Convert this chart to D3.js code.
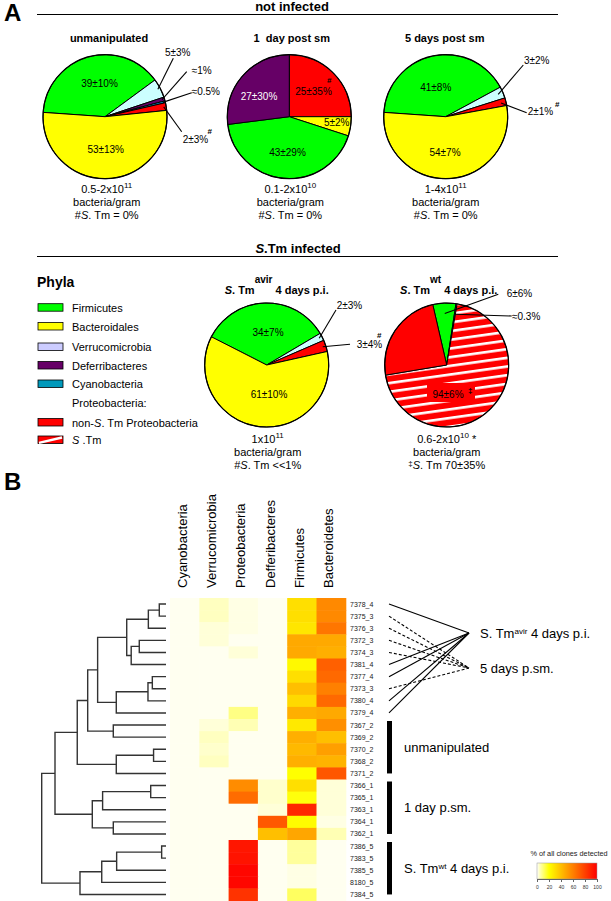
<!DOCTYPE html>
<html><head><meta charset="utf-8">
<script src="https://cdn.jsdelivr.net/npm/d3@7"></script>
<style>
body{margin:0;background:#fff;}
svg{font-family:"Liberation Sans",Arial,sans-serif;}
</style></head><body>
<svg id="c" width="611" height="901"></svg>
<script>
// ---------------- DATA ----------------
const legendPhyla = ["Firmicutes","Bacteroidales","Verrucomicrobia","Deferribacteres","Cyanobacteria","Proteobacteria:","non-S. Tm Proteobacteria","S.Tm"];

const pie1Names  = ["Firmicutes","Verrucomicrobia","Deferribacteres","Cyanobacteria","Proteobacteria","Bacteroidales"];
const pie1Values = [39,5,1,0.5,2,53];
const pie1Labels = ["39±10%","5±3%","≈1%","≈0.5%","2±3%","53±13%"];

const pie2Names  = ["Proteobacteria","Bacteroidales","Firmicutes","Deferribacteres"];
const pie2Values = [25,5,43,27];
const pie2Labels = ["25±35%","5±2%","43±29%","27±30%"];

const pie3Names  = ["Firmicutes","Verrucomicrobia","Proteobacteria","Bacteroidales"];
const pie3Values = [41,3,2,54];
const pie3Labels = ["41±8%","3±2%","2±1%","54±7%"];

const pie4Names  = ["Firmicutes","Verrucomicrobia","Proteobacteria","Bacteroidales"];
const pie4Values = [34,2,3,61];
const pie4Labels = ["34±7%","2±3%","3±4%","61±10%"];

const pie5Names  = ["Firmicutes","Cyanobacteria","S.Tm","Proteobacteria"];
const pie5Values = [6,0.3,69.7,24];
const pie5Labels = ["6±6%","≈0.3%","94±6%",""];

const heatColumns = ["Cyanobacteria","Verrucomicrobia","Proteobacteria","Defferibacteres","Firmicutes","Bacteroidetes"];
const rowIds = ["7378_4","7375_3","7376_3","7372_3","7374_3","7381_4","7377_4","7373_3","7380_4","7379_4",
                "7367_2","7369_2","7370_2","7368_2","7371_2","7366_1","7365_1","7363_1","7364_1","7362_1",
                "7386_5","7383_5","7385_5","8180_5","7384_5"];
const heatValues = [
 [0,4,1,0,30,57],[0,4,1,0,30,57],[0,2,1,0,28,63],[0,2,0,0,47,47],[0,0,2,0,47,45],
 [0,0,0,0,22,70],[0,0,0,0,30,67],[0,0,0,0,40,60],[0,0,0,0,32,67],[0,0,9,0,45,47],
 [0,2,5,0,27,55],[0,4,0,0,45,40],[0,3,0,0,42,50],[0,4,0,0,45,44],[0,0,0,0,20,73],
 [0,0,56,3,30,2],[0,0,66,3,19,2],[0,0,0,2,88,2],[0,0,0,72,21,1],[0,0,0,40,48,5],
 [0,0,93,0,7,0],[0,0,94,0,7,0],[0,0,98,0,1,0],[0,0,98,0,1,0],[0,0,84,0,12,0]];
// hierarchical clustering linkage: [child1, child2, height]; leaves 0..24, nodes 25..
const linkage = [
 [0,1,0.054],[25,2,0.142],[3,4,0.215],[27,5,0.28],[26,28,0.316],
 [6,7,0.11],[30,8,0.145],[31,9,0.40],[29,32,0.55],[10,11,0.424],
 [33,34,0.63],[12,13,0.10],[36,14,0.40],[35,37,0.714],[15,16,0.123],
 [39,17,0.51],[18,19,0.424],[40,41,0.593],[38,42,0.893],[20,21,0.035],
 [44,22,0.397],[45,23,0.517],[46,24,0.692],[43,47,1.0]];
const colorTicks = [0,20,40,60,80,100];

// ---------------- STYLE ----------------
const pieColor = {Firmicutes:"#00ff00",Bacteroidales:"#ffff00",Verrucomicrobia:"#ccffff",Deferribacteres:"#660066",
  Cyanobacteria:"#0099cc",Proteobacteria:"#ff0000","S.Tm":"url(#stripes)"};
const legendColor = ["#00ff00","#ffff00","#ccccff","#660066","#0099bb",null,"#ff0000","stm"];

const svg = d3.select("#c");
const defs = svg.append("defs");
const pat = defs.append("pattern").attr("id","stripes").attr("patternUnits","userSpaceOnUse")
  .attr("width",12).attr("height",8.6).attr("patternTransform","rotate(-8)");
pat.append("rect").attr("width",12).attr("height",8.6).attr("fill","#ff0000");
pat.append("rect").attr("y",0).attr("width",12).attr("height",2.6).attr("fill","#ffffff");

function richText(g, x, y, segs, opts={}){
  const t = g.append("text").attr("x",x).attr("y",y).attr("text-anchor",opts.anchor||"middle")
    .attr("font-size",opts.size||11).attr("fill",opts.fill||"#000").attr("font-weight",opts.weight||"normal")
    .style("white-space","pre");
  let shift = 0;
  segs.forEach(s=>{
    const sp = t.append("tspan").text(s.t);
    const want = s.sup ? -(s.raise||5) : 0;
    if (want!==shift){ sp.attr("dy", want-shift); shift = want; }
    if (s.sup) sp.attr("font-size", s.size||8);
    if (s.it) sp.attr("font-style","italic");
  });
  return t;
}

// ---------------- PANEL A ----------------
svg.append("text").attr("x",4).attr("y",21).attr("font-size",24).attr("font-weight","bold").text("A");
svg.append("text").attr("x",292).attr("y",11).attr("text-anchor","middle").attr("font-size",13).attr("font-weight","bold").text("not infected");
svg.append("line").attr("x1",37).attr("x2",558).attr("y1",14.5).attr("y2",14.5).attr("stroke","#000").attr("stroke-width",1.2);

richText(svg,298,253,[{t:"S",it:true},{t:".Tm infected"}],{size:13,weight:"bold"});
svg.append("line").attr("x1",37).attr("x2",558).attr("y1",256.5).attr("y2",256.5).attr("stroke","#000").attr("stroke-width",1.2);

const pieR = 62;
const arcGen = d3.arc().innerRadius(0).outerRadius(pieR);

function drawPie(cfg){
  const g = svg.append("g").attr("transform",`translate(${cfg.cx},${cfg.cy})`);
  const s0 = cfg.start*Math.PI/180;
  const pie = d3.pie().sort(null).value(d=>d.v).startAngle(s0).endAngle(s0+2*Math.PI);
  const arcs = pie(cfg.names.map((n,i)=>({n, v:cfg.values[i], label:cfg.labels[i]})));
  g.selectAll("path").data(arcs).join("path").attr("d",arcGen)
    .attr("fill",d=>pieColor[d.data.n]).attr("stroke","#000").attr("stroke-width",1).attr("stroke-linejoin","round");
  cfg.layout.forEach((L,i)=>{
    if(!L) return;
    const a = arcs[i];
    if (L.leader){
      const m = (a.startAngle+a.endAngle)/2, rr = pieR*cfg.leadR;
      svg.append("line").attr("x1",cfg.cx+rr*Math.sin(m)).attr("y1",cfg.cy-rr*Math.cos(m))
        .attr("x2",L.leader[0]).attr("y2",L.leader[1]).attr("stroke","#000").attr("stroke-width",1.1);
    }
    if (L.box){
      svg.append("rect").attr("x",L.box[0]).attr("y",L.box[1]).attr("width",L.box[2]).attr("height",L.box[3]).attr("fill","#ff0000");
    }
    svg.append("text").attr("x",L.x).attr("y",L.y).attr("text-anchor",L.anchor||"middle")
      .attr("font-size",10).attr("fill",L.fill||"#000").text(a.data.label);
    if (L.hash){
      svg.append("text").attr("x",L.hash[0]).attr("y",L.hash[1]).attr("font-size",8).attr("font-weight","bold")
        .attr("fill","#000").text(L.hashChar||"#");
    }
  });
  const tg = svg.append("g");
  richText(tg, cfg.cx+cfg.tdx, cfg.ty, cfg.title, {size:11, weight:"bold"});
  cfg.below.forEach((segs,k)=> richText(tg, cfg.cx+cfg.bdx, cfg.by+k*13, segs, {size:11}));
}

drawPie({cx:105,cy:116.7,start:274,names:pie1Names,values:pie1Values,labels:pie1Labels,leadR:0.96,
  layout:[{x:99.5,y:87},{x:165,y:56,anchor:"start",leader:[173.3,58.3]},{x:191.7,y:73.5,anchor:"start",leader:[186.7,71.7]},
          {x:191.7,y:95,anchor:"start",leader:[191.7,92.7]},{x:182.7,y:142.5,anchor:"start",leader:[181.7,131.7],hash:[207.5,134]},
          {x:105.7,y:152.5}],
  title:[{t:"unmanipulated"}],tdx:4,ty:42,
  below:[[{t:"0.5-2x10"},{t:"11",sup:true}],[{t:"bacteria/gram"}],[{t:"#"},{t:"S",it:true},{t:". Tm = 0%"}]],bdx:1.7,by:193});

drawPie({cx:289.3,cy:116.7,start:0,names:pie2Names,values:pie2Values,labels:pie2Labels,leadR:0.9,
  layout:[{x:313.5,y:95,hash:[327,83]},{x:336.7,y:126},{x:287.5,y:155.5},{x:259,y:100,fill:"#ffffff"}],
  title:[{t:"1\u00a0 day post sm"}],tdx:2.5,ty:42,
  below:[[{t:"0.1-2x10"},{t:"10",sup:true}],[{t:"bacteria/gram"}],[{t:"#"},{t:"S",it:true},{t:". Tm = 0%"}]],bdx:1,by:193});

drawPie({cx:445.7,cy:116.7,start:274,names:pie3Names,values:pie3Values,labels:pie3Labels,leadR:0.92,
  layout:[{x:435.8,y:91},{x:524,y:63.5,anchor:"start",leader:[523.3,65]},
          {x:527.7,y:115,anchor:"start",leader:[526.7,112.7],hash:[555,107]},{x:445,y:156}],
  title:[{t:"5 days post sm"}],tdx:-1,ty:42,
  below:[[{t:"1-4x10"},{t:"11",sup:true}],[{t:"bacteria/gram"}],[{t:"#"},{t:"S",it:true},{t:". Tm = 0%"}]],bdx:0,by:193});

drawPie({cx:266.7,cy:365,start:297,names:pie4Names,values:pie4Values,labels:pie4Labels,leadR:0.95,
  layout:[{x:268,y:335.5},{x:336.7,y:309,anchor:"start",leader:[336,310]},
          {x:356.7,y:348,anchor:"start",leader:[350,344.3],hash:[377,338]},{x:269,y:398}],
  title:[{t:"S",it:true},{t:". Tm"},{t:"avir",sup:true,raise:11,size:10},{t:" 4 days p.i."}],tdx:10,ty:294,
  below:[[{t:"1x10"},{t:"11",sup:true}],[{t:"bacteria/gram"}],[{t:"#"},{t:"S",it:true},{t:". Tm <<1%"}]],bdx:1,by:443});

drawPie({cx:446.7,cy:365,start:347,names:pie5Names,values:pie5Values,labels:pie5Labels,leadR:0.83,
  layout:[{x:506.7,y:297,anchor:"start",leader:[498.3,294.3]},{x:512,y:320,anchor:"start",leader:[511.7,316]},
          {x:448,y:398,box:[427,383,48,19],hash:[468,393],hashChar:"‡"},null],
  title:[{t:"S",it:true},{t:". Tm"},{t:"wt",sup:true,raise:11,size:10},{t:" 4 days p.i."}],tdx:2,ty:294,
  below:[[{t:"0.6-2x10"},{t:"10",sup:true},{t:" *"}],[{t:"bacteria/gram"}],[{t:"‡",sup:true,raise:3},{t:"S",it:true},{t:". Tm 70±35%"}]],bdx:0,by:443});
// outline circles
[[105,116.7],[289.3,116.7],[445.7,116.7],[266.7,365],[446.7,365]].forEach(c=>
  svg.append("circle").attr("cx",c[0]).attr("cy",c[1]).attr("r",pieR).attr("fill","none").attr("stroke","#000").attr("stroke-width",1.2));

// legend
svg.append("text").attr("x",37).attr("y",287).attr("font-size",14).attr("font-weight","bold").text("Phyla");
const legY = [307.7,326.5,347,365.5,384,403,422.5,440];
legendPhyla.forEach((p,i)=>{
  const y = legY[i];
  const c = legendColor[i];
  if (c && c!=="stm"){
    svg.append("rect").attr("x",38).attr("y",y-4).attr("width",25).attr("height",7.5).attr("fill",c).attr("stroke","#000").attr("stroke-width",0.8);
  } else if (c==="stm"){
    svg.append("rect").attr("x",38).attr("y",y-4).attr("width",25).attr("height",7.5).attr("fill","#ff0000").attr("stroke","#000").attr("stroke-width",0.8);
    svg.append("line").attr("x1",39).attr("y1",y+2.8).attr("x2",62).attr("y2",y-2.5).attr("stroke","#fff").attr("stroke-width",2.4);
  }
  let segs;
  if (p==="non-S. Tm Proteobacteria") segs=[{t:"non-"},{t:"S",it:true},{t:". Tm Proteobacteria"}];
  else if (p==="S.Tm") segs=[{t:"S",it:true},{t:" .Tm"}];
  else segs=[{t:p}];
  richText(svg,72,y+4,segs,{anchor:"start",size:11});
});

// ---------------- PANEL B ----------------
svg.append("text").attr("x",4).attr("y",490).attr("font-size",24).attr("font-weight","bold").text("B");

const heatLeft = 170, colW = 29.3, heatTop = 598, rowH = 12.1;
const x = d3.scaleBand().domain(heatColumns).range([heatLeft, heatLeft+colW*heatColumns.length]);
const y = d3.scaleBand().domain(rowIds).range([heatTop, heatTop+rowH*rowIds.length]);
const color = d3.scaleLinear().domain([0,20,100]).range(["#fffff0","#ffff00","#ff0000"]);

const cells = [];
rowIds.forEach((r,i)=>heatColumns.forEach((c,j)=>cells.push({r,c,v:heatValues[i][j]})));
svg.append("g").selectAll("rect").data(cells).join("rect")
  .attr("x",d=>x(d.c)).attr("y",d=>y(d.r)).attr("width",x.bandwidth()+0.5).attr("height",y.bandwidth()+0.5)
  .attr("fill",d=>color(d.v));

svg.append("g").selectAll("text").data(heatColumns).join("text")
  .attr("transform",d=>`translate(${x(d)+x.bandwidth()/2+2},588) rotate(-90)`)
  .attr("font-size",13).text(d=>d);

svg.append("g").selectAll("text").data(rowIds).join("text")
  .attr("x",350).attr("y",d=>y(d)+y.bandwidth()/2+2.5).attr("font-size",7).attr("fill","#222").text(d=>d);

// dendrogram
const hx = d3.scaleLinear().domain([0,1]).range([166,41.7]);
const nodeY = rowIds.map(r=>y(r)+y.bandwidth()/2);
const nodeH = rowIds.map(()=>0);
const dg = svg.append("g").attr("fill","none").attr("stroke","#333").attr("stroke-width",1.4);
linkage.forEach(([a,b,h])=>{
  const xa = hx(nodeH[a]), xb = hx(nodeH[b]), xh = hx(h);
  dg.append("path").attr("d",`M${xa},${nodeY[a]}H${xh}V${nodeY[b]}H${xb}`);
  nodeY.push((nodeY[a]+nodeY[b])/2); nodeH.push(h);
});

// right annotations
const convAvir = [469,633], conv5 = [469,668];
const ann = svg.append("g");
rowIds.forEach(r=>{
  const yy = y(r)+y.bandwidth()/2;
  if (r.endsWith("_4")) ann.append("line").attr("x1",389).attr("y1",yy).attr("x2",convAvir[0]).attr("y2",convAvir[1]).attr("stroke","#000").attr("stroke-width",1.1);
  if (r.endsWith("_3")) ann.append("line").attr("x1",389).attr("y1",yy).attr("x2",conv5[0]).attr("y2",conv5[1]).attr("stroke","#000").attr("stroke-width",1.1).attr("stroke-dasharray","3,2");
});
richText(ann,480,637.5,[{t:"S. Tm"},{t:"avir",sup:true,raise:4,size:8},{t:" 4 days p.i."}],{anchor:"start",size:13});
richText(ann,480,672.5,[{t:"5 days p.sm."}],{anchor:"start",size:13});

const groups = [["_2","unmanipulated"],["_1","1 day p.sm."],["_5","S. Tm|wt| 4 days p.i."]];
groups.forEach(([suf,lab])=>{
  const rows = rowIds.filter(r=>r.endsWith(suf));
  const y0 = y(rows[0])+2, y1 = y(rows[rows.length-1])+y.bandwidth()/2;
  ann.append("rect").attr("x",387).attr("y",y0).attr("width",5).attr("height",y1-y0).attr("fill","#000");
  const parts = lab.split("|");
  const segs = parts.length>1 ? [{t:parts[0]},{t:parts[1],sup:true,raise:4,size:8},{t:parts[2]}] : [{t:lab}];
  richText(ann,404,(y0+y1)/2+4.5,segs,{anchor:"start",size:13});
});

// colour legend
const lg = defs.append("linearGradient").attr("id","hg");
d3.range(0,101,5).forEach(v=>lg.append("stop").attr("offset",v+"%").attr("stop-color",v===0?"#ffffff":color(v)));
const cx0 = 537, cw = 60;
const cs = d3.scaleLinear().domain([0,100]).range([cx0,cx0+cw]);
svg.append("text").attr("x",569).attr("y",856).attr("text-anchor","middle").attr("font-size",7.3).attr("fill","#222").text("% of all clones detected");
svg.append("rect").attr("x",cx0).attr("y",863).attr("width",cw).attr("height",16).attr("fill","url(#hg)").attr("stroke","#999").attr("stroke-width",0.5);
svg.append("g").attr("transform","translate(0,879)").call(d3.axisBottom(cs).tickValues(colorTicks).tickSize(3).tickPadding(3))
  .call(g=>{g.select(".domain").attr("stroke","#666"); g.selectAll("line").attr("stroke","#666");
            g.selectAll("text").attr("font-size",5).attr("fill","#333").attr("font-family","Liberation Sans, Arial");});
</script></body></html>
